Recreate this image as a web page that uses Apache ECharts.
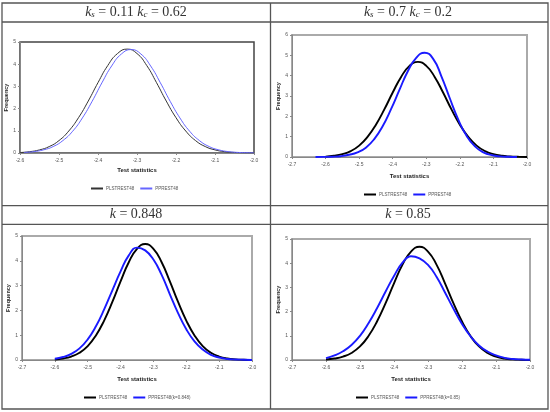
<!DOCTYPE html>
<html><head><meta charset="utf-8">
<script src="https://cdn.jsdelivr.net/npm/echarts@6/dist/echarts.min.js"></script>
<style>html,body{margin:0;padding:0;background:#fff}#c{width:550px;height:412px}</style>
</head><body><div id="c"></div>
<script>
// ---- data ----
const blackX = [-2.6,-2.575,-2.55,-2.525,-2.5,-2.475,-2.45,-2.425,-2.4,-2.375,-2.35,-2.325,-2.3,-2.275,-2.25,-2.225,-2.2,-2.175,-2.15,-2.125,-2.1,-2.075,-2.05,-2.025,-2.0];
const blackY = [0.02,0.06,0.14,0.29,0.56,0.99,1.59,2.34,3.17,3.94,4.48,4.68,4.48,3.94,3.17,2.34,1.59,0.99,0.56,0.29,0.14,0.06,0.025,0.01,0.0];

const blueTLX = [-2.59,-2.565,-2.54,-2.515,-2.49,-2.465,-2.44,-2.415,-2.39,-2.365,-2.34,-2.315,-2.29,-2.265,-2.24,-2.215,-2.19,-2.165,-2.14,-2.115,-2.09,-2.065,-2.04,-2.015,-2.0];
const blueTLY = [0.025,0.06,0.14,0.29,0.56,0.98,1.58,2.33,3.16,3.92,4.46,4.66,4.46,3.92,3.16,2.33,1.58,0.98,0.56,0.29,0.14,0.06,0.025,0.01,0.005];

const blueTRX = [-2.63,-2.605,-2.58,-2.555,-2.53,-2.505,-2.48,-2.455,-2.43,-2.405,-2.38,-2.355,-2.33,-2.305,-2.28,-2.255,-2.23,-2.205,-2.18,-2.155,-2.13,-2.105,-2.08,-2.055,-2.03];
const blueTRY = [0.0,0.005,0.015,0.04,0.11,0.23,0.46,0.88,1.51,2.35,3.30,4.22,4.88,5.13,4.84,3.97,2.89,1.85,1.04,0.52,0.23,0.09,0.03,0.01,0.0];

const blueBLX = [-2.6,-2.575,-2.55,-2.525,-2.5,-2.475,-2.45,-2.425,-2.4,-2.375,-2.35,-2.325,-2.3,-2.275,-2.25,-2.225,-2.2,-2.175,-2.15,-2.125,-2.1,-2.075,-2.05,-2.025,-2.0];
const blueBLY = [0.05,0.12,0.25,0.47,0.83,1.36,2.04,2.81,3.57,4.22,4.53,4.42,4.05,3.43,2.65,1.89,1.24,0.75,0.42,0.21,0.10,0.04,0.02,0.01,0.0];

const blueBRX = [-2.6,-2.575,-2.55,-2.525,-2.5,-2.475,-2.45,-2.425,-2.4,-2.375,-2.35,-2.325,-2.3,-2.275,-2.25,-2.225,-2.2,-2.175,-2.15,-2.125,-2.1,-2.075,-2.05,-2.025,-2.0];
const blueBRY = [0.08,0.19,0.36,0.62,1.0,1.52,2.14,2.82,3.47,4.02,4.29,4.20,3.93,3.44,2.79,2.12,1.49,0.98,0.60,0.35,0.19,0.09,0.04,0.02,0.01];

const seriesNameA = 'PLSTREST48';
const seriesNameB = ['PPREST48','PPREST48','PPREST48(k=0.848)','PPREST48(k=0.85)'];
const xMin = [-2.6,-2.7,-2.7,-2.7];
const yMax = [5,6,5,5];

function pairs(xs, ys){ return xs.map((x,i)=>[x, ys[i]]); }

const grids = [
  {left:20, top:42, width:234, height:111},
  {left:292, top:35, width:235, height:122},
  {left:22, top:236, width:230, height:124},
  {left:292, top:239, width:238, height:121}
];
const gridBorder = ['#444','#aaa','#aaa','#aaa'];
const blueData = [pairs(blueTLX,blueTLY), pairs(blueTRX,blueTRY), pairs(blueBLX,blueBLY), pairs(blueBRX,blueBRY)];
const blackColor = ['#333','#000','#000','#000'];
const blueColor = ['#6666ff','#1a1aff','#1a1aff','#1a1aff'];
const lw = [1,1.9,1.9,1.9];

const tickFont = {fontSize:5, color:'#555', fontFamily:'Liberation Sans Narrow, Liberation Sans, sans-serif'};

const xAxes = [], yAxes = [], series = [], legends = [];
const legendPos = [[135,181],[408,187],[137,390],[408,390]];
const nameGap = [14,16,16,16];
for (let i=0;i<4;i++){
  xAxes.push({type:'value', gridIndex:i, min:xMin[i], max:-2.0, interval:0.1,
    name:'Test statistics', nameLocation:'middle', nameGap:nameGap[i],
    nameTextStyle:{fontSize:6, color:'#222', fontWeight:'bold', fontFamily:'Liberation Sans Narrow, Liberation Sans, sans-serif'},
    axisLine:{lineStyle:{color:'#888', width:1}}, axisTick:{length:2, lineStyle:{color:'#888'}},
    axisLabel:Object.assign({margin:5, formatter:v=>v.toFixed(1)}, tickFont),
    splitLine:{show:false}});
  yAxes.push({type:'value', gridIndex:i, min:0, max:yMax[i], interval:1,
    name:'Frequency', nameLocation:'middle', nameGap:8, nameRotate:90,
    nameTextStyle:{fontSize:5.5, color:'#222', fontWeight:'bold', fontFamily:'Liberation Sans, sans-serif'},
    axisLine:{show:true, lineStyle:{color:'#888', width:1}}, axisTick:{show:true, length:2, lineStyle:{color:'#888'}},
    axisLabel:Object.assign({margin:4}, tickFont),
    splitLine:{show:false}});
  series.push({type:'line', name:seriesNameA, xAxisIndex:i, yAxisIndex:i, smooth:0.5, symbol:'none',
    data:pairs(blackX,blackY), lineStyle:{color:blackColor[i], width:lw[i]}, itemStyle:{color:blackColor[i]}, z:3});
  series.push({type:'line', name:seriesNameB[i], xAxisIndex:i, yAxisIndex:i, smooth:0.5, symbol:'none',
    data:blueData[i], lineStyle:{color:blueColor[i], width:lw[i]}, itemStyle:{color:blueColor[i]}, z:4});
  legends.push({left:legendPos[i][0], top:legendPos[i][1], orient:'horizontal', selectedMode:false,
    itemWidth:12, itemHeight:2, itemGap:6, icon:'rect',
    textStyle:{fontSize:4.5, color:'#555', fontFamily:'Liberation Sans Narrow, Liberation Sans, sans-serif', padding:[0,0,0,-2]},
    data:[{name:seriesNameA, itemStyle:{color:blackColor[i]}},{name:seriesNameB[i], itemStyle:{color:blueColor[i]}}]});
}
const titleStyle = {
  fontWeight:'normal',
  rich:{
    k:{fontSize:14, fontStyle:'italic', fontWeight:'normal', fontFamily:'Liberation Serif, serif', color:'#333'},
    s:{fontSize:9, fontStyle:'italic', fontWeight:'normal', fontFamily:'Liberation Serif, serif', color:'#333', padding:[5,0,0,0]},
    n:{fontSize:14, fontWeight:'normal', fontFamily:'Liberation Serif, serif', color:'#333'}
  }
};
const titles = [
  {text:'{k|k}{s|s}{n| = 0.11 }{k|k}{s|c}{n| = 0.62}', left:136, top:5},
  {text:'{k|k}{s|s}{n| = 0.7 }{k|k}{s|c}{n| = 0.2}', left:408, top:5},
  {text:'{k|k}{n| = 0.848}', left:136, top:207},
  {text:'{k|k}{n| = 0.85}', left:408, top:207}
].map(t=>({text:t.text, left:t.left, top:t.top, textAlign:'center', textStyle:titleStyle, padding:0}));

const grid = grids.map((g,i)=>Object.assign({show:true, borderColor:gridBorder[i], borderWidth:i===0?1.5:2, containLabel:false}, g));

const lineC = '#555';
const graphic = [
  {type:'rect', shape:{x:2,y:3,width:546,height:406}, style:{fill:'none', stroke:lineC, lineWidth:1.3}, z:10},
  {type:'line', shape:{x1:2,y1:22,x2:548,y2:22}, style:{stroke:lineC, lineWidth:1.3}, z:10},
  {type:'line', shape:{x1:2,y1:205.7,x2:548,y2:205.7}, style:{stroke:lineC, lineWidth:1.3}, z:10},
  {type:'line', shape:{x1:2,y1:224.3,x2:548,y2:224.3}, style:{stroke:lineC, lineWidth:1.3}, z:10},
  {type:'line', shape:{x1:270.5,y1:3,x2:270.5,y2:409}, style:{stroke:lineC, lineWidth:1.3}, z:10}
];

const chart = echarts.init(document.getElementById('c'), null, {renderer:'canvas'});
chart.setOption({animation:false, backgroundColor:'#fff', title:titles, grid:grid, xAxis:xAxes, yAxis:yAxes, series:series, legend:legends, graphic:graphic});
// center each legend horizontally on its target point
const centered = legends.map((l,i)=>{
  const comp = chart.getModel().getComponent('legend', i);
  const view = chart.getViewOfComponentModel(comp);
  const rect = view.group.getBoundingRect();
  return {left: Math.round(legendPos[i][0] - rect.width/2)};
});
chart.setOption({legend:centered});
</script></body></html>
